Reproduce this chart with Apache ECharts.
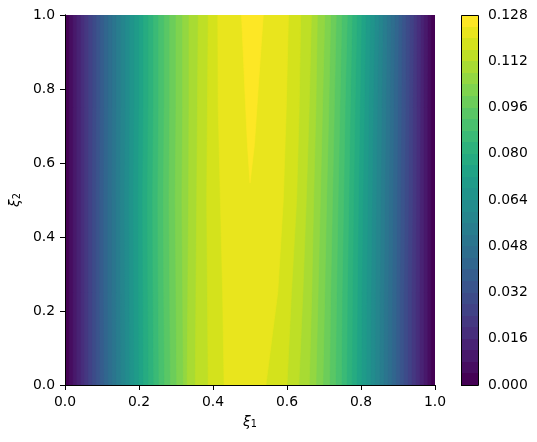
<!DOCTYPE html>
<html><head><meta charset="utf-8">
<script src="https://cdn.jsdelivr.net/npm/echarts@6/dist/echarts.min.js"></script>
<style>html,body{margin:0;padding:0;background:#fff}#c{width:537px;height:442px}</style>
</head><body><div id="c"></div>
<script>
// ---- data ----
const xi1TickValues = [0, 0.2, 0.4, 0.6, 0.8, 1.0];
const xi1TickLabels = ['0.0','0.2','0.4','0.6','0.8','1.0'];
const colorbarTickValues = [0, 0.016, 0.032, 0.048, 0.064, 0.080, 0.096, 0.112, 0.128];
const colorbarTickLabels = ['0.000','0.016','0.032','0.048','0.064','0.080','0.096','0.112','0.128'];
const levels = [0.000,0.004,0.008,0.012,0.016,0.020,0.024,0.028,0.032,0.036,0.040,0.044,0.048,0.052,0.056,0.060,
  0.064,0.068,0.072,0.076,0.080,0.084,0.088,0.092,0.096,0.100,0.104,0.108,0.112,0.116,0.120,0.124,0.128];
const xi2Rows = [0, 0.25, 0.5, 0.75, 1];
// xi1 where each level (0.004 ... 0.120) is crossed on the left side, at each xi2 row
const leftCrossings = [
  [0.011,0.011,0.011,0.011,0.011],
  [0.022,0.022,0.022,0.022,0.022],
  [0.032,0.032,0.032,0.032,0.032],
  [0.043,0.043,0.043,0.043,0.043],
  [0.053,0.053,0.053,0.053,0.053],
  [0.063,0.063,0.063,0.064,0.064],
  [0.074,0.074,0.074,0.075,0.075],
  [0.084,0.084,0.084,0.085,0.085],
  [0.095,0.094,0.094,0.095,0.095],
  [0.106,0.105,0.105,0.106,0.106],
  [0.117,0.116,0.116,0.117,0.117],
  [0.128,0.127,0.127,0.128,0.128],
  [0.139,0.138,0.138,0.139,0.139],
  [0.151,0.150,0.149,0.151,0.151],
  [0.163,0.162,0.161,0.163,0.163],
  [0.175,0.174,0.173,0.175,0.175],
  [0.187,0.186,0.185,0.187,0.187],
  [0.200,0.199,0.198,0.200,0.200],
  [0.212,0.211,0.210,0.212,0.212],
  [0.226,0.224,0.223,0.225,0.225],
  [0.240,0.238,0.237,0.239,0.239],
  [0.254,0.252,0.251,0.253,0.253],
  [0.269,0.267,0.266,0.268,0.268],
  [0.285,0.283,0.281,0.283,0.283],
  [0.302,0.300,0.298,0.300,0.300],
  [0.320,0.318,0.316,0.318,0.318],
  [0.330,0.332,0.334,0.335,0.335],
  [0.352,0.354,0.356,0.358,0.360],
  [0.387,0.385,0.383,0.385,0.387],
  [0.430,0.426,0.420,0.414,0.413]
];
// xi1 where each level (0.004 ... 0.120) is crossed on the right side, at each xi2 row
const rightCrossings = [
  [0.989,0.989,0.989,0.989,0.989],
  [0.979,0.979,0.979,0.979,0.980],
  [0.969,0.969,0.969,0.969,0.970],
  [0.958,0.958,0.959,0.960,0.961],
  [0.948,0.948,0.949,0.950,0.951],
  [0.937,0.937,0.939,0.940,0.942],
  [0.926,0.926,0.928,0.930,0.931],
  [0.916,0.916,0.918,0.920,0.921],
  [0.905,0.905,0.907,0.909,0.911],
  [0.894,0.895,0.897,0.899,0.901],
  [0.883,0.884,0.886,0.888,0.891],
  [0.872,0.873,0.875,0.878,0.880],
  [0.861,0.862,0.864,0.867,0.870],
  [0.850,0.851,0.853,0.856,0.859],
  [0.838,0.839,0.841,0.844,0.848],
  [0.826,0.827,0.830,0.833,0.837],
  [0.814,0.815,0.818,0.821,0.825],
  [0.801,0.802,0.805,0.809,0.813],
  [0.788,0.790,0.793,0.797,0.801],
  [0.775,0.777,0.780,0.784,0.789],
  [0.761,0.763,0.767,0.771,0.776],
  [0.747,0.749,0.753,0.757,0.763],
  [0.731,0.734,0.738,0.743,0.748],
  [0.715,0.718,0.723,0.728,0.733],
  [0.697,0.702,0.707,0.713,0.718],
  [0.678,0.684,0.690,0.696,0.702],
  [0.660,0.667,0.672,0.678,0.682],
  [0.632,0.643,0.652,0.660,0.666],
  [0.600,0.612,0.626,0.633,0.637],
  [0.543,0.575,0.590,0.598,0.604]
];
// the 0.124 contour (top band wedge), [xi1, xi2] from its tip upward
const topBandLeft  = [[0.500,0.546],[0.493,0.650],[0.486,0.800],[0.477,1.000]];
const topBandRight = [[0.500,0.546],[0.512,0.650],[0.522,0.800],[0.536,1.000]];

// ---- styling ----
const viridisAnchors = ['#440154','#481567','#482677','#453781','#3f4788','#39558c','#32648e','#2d718e','#287d8e','#238a8d',
  '#1f968b','#20a386','#29af7f','#3cbc75','#56c667','#75d054','#95d840','#b8de29','#dce318','#fde725'];
function hexToRgb(h){return [parseInt(h.slice(1,3),16),parseInt(h.slice(3,5),16),parseInt(h.slice(5,7),16)];}
function viridis(t){
  const n = viridisAnchors.length - 1;
  const p = Math.max(0, Math.min(1, t)) * n;
  const i = Math.min(n - 1, Math.floor(p)), f = p - i;
  const a = hexToRgb(viridisAnchors[i]), b = hexToRgb(viridisAnchors[i+1]);
  return 'rgb(' + a.map((v,j)=>Math.round(v + (b[j]-v)*f)).join(',') + ')';
}
const nBands = levels.length - 1;
const bandColors = [];
for (let i = 0; i < nBands; i++) bandColors.push(viridis(i / (nBands - 1)));

function regionPoints(k){
  if (k === 0) return [[0,0],[0,1],[1,1],[1,0]];
  let L, R;
  if (k <= leftCrossings.length) {
    L = xi2Rows.map((y,j)=>[leftCrossings[k-1][j], y]);
    R = xi2Rows.map((y,j)=>[rightCrossings[k-1][j], y]);
  } else { L = topBandLeft; R = topBandRight; }
  return L.concat(R.slice().reverse());
}

const FONT = 'DejaVu Sans';
const FS = 13.9;
const lineStyle = {color:'#000', width:1};
function frameAxis(extra){
  return Object.assign({type:'value', min:0, max:1, z:10,
    axisLine:{show:true, lineStyle}, axisTick:{show:false}, minorTick:{show:false},
    axisLabel:{show:false}, splitLine:{show:false}}, extra);
}
const nameRich = {
  i:{fontStyle:'italic', fontFamily:FONT, fontSize:FS, color:'#000'},
  n:{fontFamily:FONT, fontSize:9.7, color:'#000', verticalAlign:'bottom'}
};
function labelFor(values, labels){
  return (v)=>{ let best = 0; values.forEach((t,i)=>{ if (Math.abs(t - v) < Math.abs(values[best] - v)) best = i; }); return labels[best]; };
}

const chart = echarts.init(document.getElementById('c'), null, {renderer:'canvas'});
chart.setOption({
  animation:false,
  backgroundColor:'#fff',
  grid:[
    {left:65, top:15, width:370, height:370},
    {left:461, top:15, width:17, height:370}
  ],
  xAxis:[
    frameAxis({gridIndex:0, position:'bottom', interval:0.2,
      axisTick:{show:true, length:5, lineStyle, customValues:xi1TickValues},
      axisLabel:{show:true, margin:10, color:'#000', fontFamily:FONT, fontSize:FS,
        customValues:xi1TickValues, formatter:labelFor(xi1TickValues, xi1TickLabels)},
      name:'{i|ξ}{n|1}', nameLocation:'middle', nameGap:30,
      nameTextStyle:{color:'#000', rich:nameRich}}),
    frameAxis({gridIndex:0, position:'top'}),
    {type:'value', gridIndex:1, min:0, max:1, show:false}
  ],
  yAxis:[
    frameAxis({gridIndex:0, position:'left', interval:0.2,
      axisTick:{show:true, length:5, lineStyle, customValues:xi1TickValues},
      axisLabel:{show:true, margin:10, color:'#000', fontFamily:FONT, fontSize:FS,
        customValues:xi1TickValues, formatter:labelFor(xi1TickValues, xi1TickLabels)},
      name:'{i|ξ}{n|2}', nameLocation:'middle', nameGap:33, nameRotate:90,
      nameTextStyle:{color:'#000', rich:nameRich}}),
    frameAxis({gridIndex:0, position:'right'}),
    frameAxis({gridIndex:1, position:'right', min:0, max:0.128, interval:0.016,
      axisLine:{show:false},
      axisTick:{show:true, length:5, lineStyle, customValues:colorbarTickValues},
      axisLabel:{show:true, margin:10, color:'#000', fontFamily:FONT, fontSize:FS,
        customValues:colorbarTickValues, formatter:labelFor(colorbarTickValues, colorbarTickLabels)}})
  ],
  series:[
    {
      type:'custom', xAxisIndex:0, yAxisIndex:0, clip:true,
      data: levels.slice(0, nBands).map((v,i)=>[i, v]),
      encode:{x:0, y:1},
      renderItem:function(params, api){
        const k = api.value(0);
        const pts = regionPoints(k).map(p=>api.coord(p));
        return {type:'polygon', shape:{points:pts},
          style:{fill:bandColors[k], stroke:bandColors[k], lineWidth:0.6}};
      }
    },
    {
      type:'custom', xAxisIndex:2, yAxisIndex:2, z:11,
      data: levels.slice(0, nBands).map((v,i)=>[i, v, levels[i+1]]),
      encode:{x:0, y:1},
      renderItem:function(params, api){
        const k = api.value(0);
        const p0 = api.coord([0, api.value(2)]);
        const p1 = api.coord([1, api.value(1)]);
        const x0 = Math.round(p0[0]), x1 = Math.round(p1[0]);
        const y0 = Math.round(p0[1]), y1 = Math.round(p1[1]);
        return {type:'rect', shape:{x:x0, y:y0, width:x1-x0, height:y1-y0},
          style:{fill:bandColors[k]}};
      }
    },
    {
      // colorbar outline
      type:'custom', xAxisIndex:2, yAxisIndex:2, z:12,
      data:[[0, levels[0], levels[levels.length-1]]],
      encode:{x:0, y:1},
      renderItem:function(params, api){
        const p0 = api.coord([0, api.value(2)]);
        const p1 = api.coord([1, api.value(1)]);
        return {type:'rect', shape:{x:Math.round(p0[0])+0.5, y:Math.round(p0[1])+0.5,
          width:Math.round(p1[0]-p0[0]), height:Math.round(p1[1]-p0[1])},
          style:{fill:'none', stroke:'#000', lineWidth:1}};
      }
    }
  ]
});
</script>
</body></html>
